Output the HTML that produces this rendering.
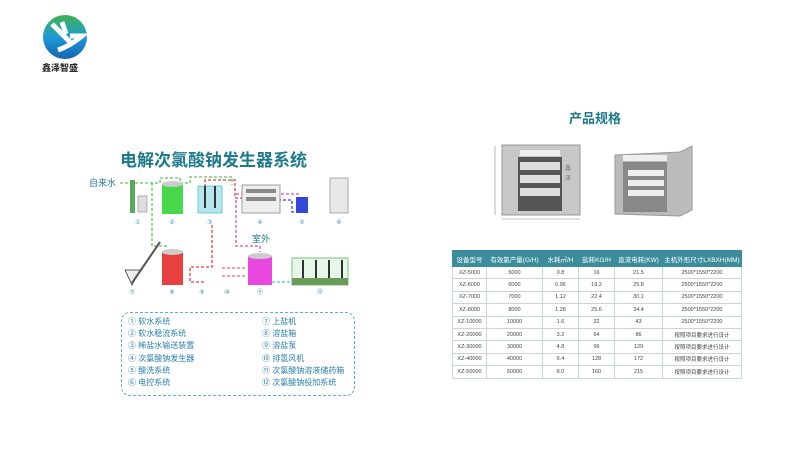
<!DOCTYPE html>
<html><head><meta charset="utf-8"><style>
body{margin:0;width:800px;height:450px;background:#fff;position:relative;overflow:hidden;font-family:"Liberation Sans","Noto Sans CJK SC",sans-serif}
.a{position:absolute}
table{border-collapse:collapse;font-size:5.5px;color:#444}
td{border:1px solid #c6d6da;text-align:center;height:11.4px;padding:0}
th{background:#3c8d9c;color:#fff;font-weight:normal;font-size:6.5px;height:15px;padding:0;border:1px solid #3c8d9c}
.leg{font-size:8px;color:#2a7fae;line-height:12.2px}
</style></head><body>
<!-- logo -->
<svg class="a" style="left:40px;top:12px" width="50" height="50" viewBox="0 0 50 50">
<defs><linearGradient id="g" x1="0" y1="0" x2="0" y2="1"><stop offset="0" stop-color="#3fb34f"/><stop offset="0.5" stop-color="#1e9ad6"/><stop offset="1" stop-color="#1565b0"/></linearGradient></defs>
<circle cx="25" cy="25" r="22" fill="url(#g)"/>
<path d="M12 12 L30 30 M22 10 L26 22 M18 38 Q30 34 42 24 L30 24" stroke="#fff" stroke-width="5" fill="none"/>
</svg>
<div class="a" style="left:42px;top:61px;font-size:9px;font-weight:bold;color:#222">鑫泽智盛</div>

<div class="a" style="left:120px;top:146px;font-size:17px;font-weight:bold;color:#1e7a8c">电解次氯酸钠发生器系统</div>

<svg class="a" style="left:0;top:0" width="400" height="310">
<g font-size="6" fill="#2a8ac0" text-anchor="middle" font-family="Liberation Sans">
<text x="138" y="224">①</text><text x="172" y="224">②</text><text x="210" y="224">③</text><text x="260" y="224">④</text><text x="302" y="224">⑤</text><text x="339" y="224">⑥</text>
<text x="132" y="294">⑦</text><text x="172" y="294">⑧</text><text x="202" y="294">⑨</text><text x="227" y="294">⑩</text><text x="260" y="294">⑪</text><text x="320" y="294">⑫</text>
</g>
<text x="89" y="186" font-size="9" fill="#1e7a8c" font-family="Liberation Sans,Noto Sans CJK SC">自来水</text>
<text x="252" y="242" font-size="9" fill="#1e7a8c" font-family="Liberation Sans,Noto Sans CJK SC">室外</text>
<!-- pipes -->
<g fill="none" stroke-width="1.3" stroke-dasharray="3,2">
<path d="M120 183 H160 V178 H180 V183 H190 V177 H232 V185" stroke="#5ac85a"/>
<path d="M152 183 V246 H168" stroke="#5ac85a"/>
<path d="M205 187 V180 H235 V198 H270 M212 225 V267 H190 V282 H205" stroke="#e04040"/>
<path d="M236 200 V246 H260 V252 M236 194 H300" stroke="#d050d0"/>
<path d="M278 200 H292 V212 H300" stroke="#3040d0"/>
<path d="M272 282 H300 V284" stroke="#40c8e0"/>
<path d="M222 276 H245 M222 268 H245" stroke="#e07070"/>
</g>
<!-- equipment -->
<rect x="130" y="180" width="5" height="33" fill="#5aa85a"/>
<rect x="138" y="196" width="9" height="16" fill="#ddd" stroke="#888" stroke-width=".6"/>
<rect x="162" y="184" width="21" height="30" fill="#49d84a"/>
<ellipse cx="172.5" cy="184" rx="10.5" ry="3" fill="#ccc"/>
<rect x="198" y="186" width="24" height="27" fill="#b8e6ee" stroke="#4cc" stroke-width=".8"/>
<rect x="204" y="186" width="2" height="22" fill="#333"/><rect x="214" y="186" width="2" height="22" fill="#333"/>
<rect x="242" y="185" width="38" height="28" fill="#eee" stroke="#888" stroke-width=".8"/>
<rect x="246" y="189" width="30" height="4" fill="#888"/><rect x="246" y="197" width="30" height="4" fill="#888"/>
<rect x="296" y="197" width="12" height="16" fill="#3448d8"/>
<rect x="330" y="178" width="18" height="35" fill="#e8e8e8" stroke="#999" stroke-width=".8"/>
<path d="M125 270 H140 L132 285 Z" fill="#eee" stroke="#333" stroke-width=".8"/>
<path d="M132 283 L160 242" stroke="#555" stroke-width="2"/>
<rect x="162" y="252" width="21" height="33" fill="#e84040"/>
<ellipse cx="172.5" cy="252" rx="10.5" ry="3" fill="#ccc"/>
<rect x="248" y="256" width="24" height="29" fill="#e848e0"/>
<ellipse cx="260" cy="256" rx="12" ry="3" fill="#ccc"/>
<rect x="292" y="258" width="56" height="27" fill="#e8f8e8" stroke="#5b5" stroke-width=".8"/>
<rect x="292" y="278" width="56" height="7" fill="#6a9a5a"/>
<g fill="#333"><rect x="302" y="260" width="2" height="18"/><rect x="315" y="260" width="2" height="18"/><rect x="328" y="260" width="2" height="18"/><rect x="341" y="260" width="2" height="18"/></g>
</svg>

<div class="a" style="left:121px;top:312px;width:232px;height:82px;border:1.5px dashed #5ab0d0;border-radius:9px"></div>
<div class="a leg" style="left:128px;top:316px">① 软水系统<br>② 软水稳流系统<br>③ 稀盐水输送装置<br>④ 次氯酸钠发生器<br>⑤ 酸洗系统<br>⑥ 电控系统</div>
<div class="a leg" style="left:262px;top:316px">⑦ 上盐机<br>⑧ 溶盐箱<br>⑨ 溶盐泵<br>⑩ 排氢风机<br>⑪ 次氯酸钠溶液储药箱<br>⑫ 次氯酸钠投加系统</div>

<div class="a" style="left:569px;top:108px;font-size:13px;font-weight:bold;color:#1e7a8c">产品规格</div>
<svg class="a" style="left:480px;top:140px" width="230" height="90">
<line x1="15" y1="6" x2="15" y2="75" stroke="#888" stroke-width=".6"/>
<line x1="22" y1="79" x2="100" y2="79" stroke="#888" stroke-width=".6"/>
<rect x="22" y="5" width="78" height="70" fill="#c8c8c8" stroke="#999"/>
<rect x="38" y="17" width="44" height="54" fill="#555"/>
<rect x="40" y="22" width="40" height="8" fill="#ddd"/><rect x="40" y="35" width="40" height="8" fill="#ddd"/><rect x="40" y="48" width="40" height="8" fill="#ddd"/>
<rect x="40" y="10" width="40" height="6" fill="#eee"/>
<text x="85" y="30" font-size="6" fill="#777">鑫</text><text x="85" y="40" font-size="6" fill="#777">泽</text>
<path d="M135 15 L200 12 L212 6 L212 70 L200 76 L135 74 Z" fill="#bbb" stroke="#999"/>
<rect x="143" y="22" width="44" height="50" fill="#888"/>
<rect x="148" y="30" width="36" height="6" fill="#eee"/><rect x="148" y="40" width="36" height="6" fill="#eee"/><rect x="148" y="50" width="36" height="6" fill="#eee"/>
<rect x="143" y="15" width="44" height="6" fill="#eee"/>
</svg>

<table class="a" style="left:452px;top:250px;width:290px">
<tr><th style="width:33px">设备型号</th><th style="width:55px">有效氯产量(G/H)</th><th style="width:35px">水耗㎥/H</th><th style="width:35px">盐耗KG/H</th><th style="width:47px">直流电耗(KW)</th><th>主机外形尺寸LXBXH(MM)</th></tr>
<tr><td>XZ-5000</td><td>5000</td><td>0.8</td><td>16</td><td>21.5</td><td>2500*1550*2200</td></tr>
<tr><td>XZ-6000</td><td>6000</td><td>0.96</td><td>19.2</td><td>25.8</td><td>2500*1550*2200</td></tr>
<tr><td>XZ-7000</td><td>7000</td><td>1.12</td><td>22.4</td><td>30.1</td><td>2500*1550*2200</td></tr>
<tr><td>XZ-8000</td><td>8000</td><td>1.28</td><td>25.6</td><td>34.4</td><td>2500*1550*2200</td></tr>
<tr><td>XZ-10000</td><td>10000</td><td>1.6</td><td>32</td><td>43</td><td>2500*1550*2200</td></tr>
<tr><td>XZ-20000</td><td>20000</td><td>3.2</td><td>64</td><td>86</td><td>按照项目要求进行设计</td></tr>
<tr><td>XZ-30000</td><td>30000</td><td>4.8</td><td>96</td><td>129</td><td>按照项目要求进行设计</td></tr>
<tr><td>XZ-40000</td><td>40000</td><td>6.4</td><td>128</td><td>172</td><td>按照项目要求进行设计</td></tr>
<tr><td>XZ-50000</td><td>50000</td><td>8.0</td><td>160</td><td>215</td><td>按照项目要求进行设计</td></tr>
</table>
</body></html>
